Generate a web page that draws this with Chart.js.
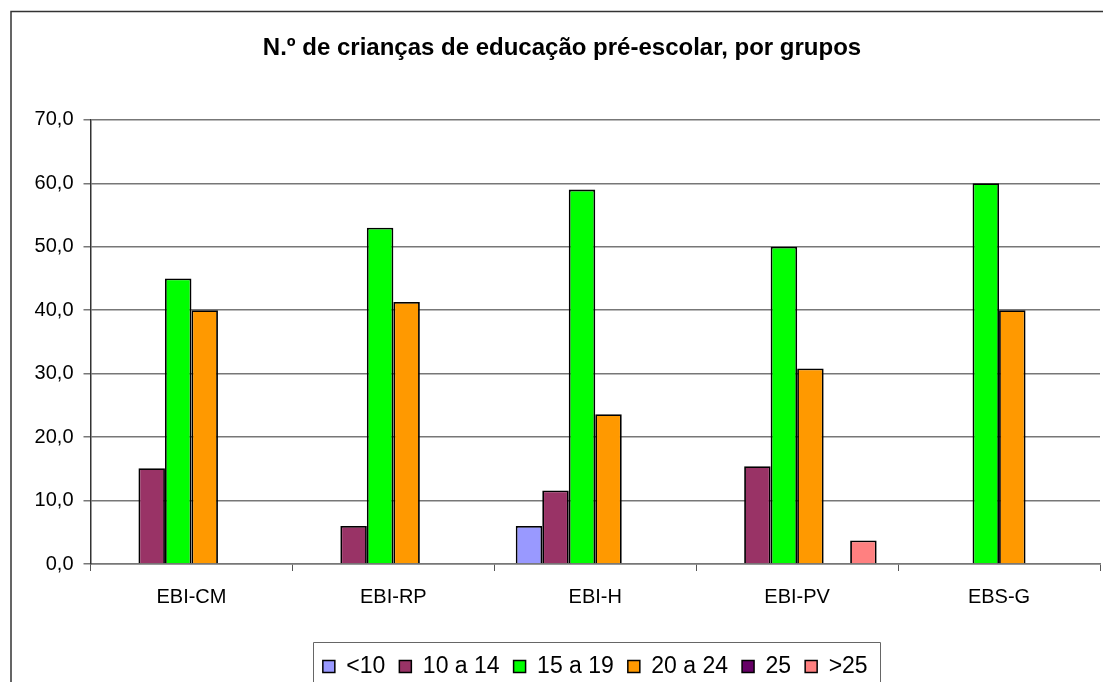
<!DOCTYPE html>
<html>
<head>
<meta charset="utf-8">
<script src="https://cdn.jsdelivr.net/npm/chart.js@4/dist/chart.umd.min.js"></script>
<style>
html,body{margin:0;padding:0;background:#fff;overflow:hidden;}
#wrap{position:relative;width:1103px;height:682px;overflow:hidden;}
</style>
</head>
<body>
<div id="wrap"><canvas id="c" width="1103" height="688"></canvas></div>
<script>
const categories = ["EBI-CM", "EBI-RP", "EBI-H", "EBI-PV", "EBS-G"];
const seriesNames = ["<10", "10 a 14", "15 a 19", "20 a 24", "25", ">25"];
const under10 = [null, null, 6, null, null];
const from10to14 = [15.1, 6, 11.6, 15.4, null];
const from15to19 = [45, 53, 59, 50, 60];
const from20to24 = [40, 41.3, 23.6, 30.8, 40];
const exactly25 = [null, null, null, null, null];
const over25 = [null, null, null, 3.7, null];
const seriesColors = ["#9999FF", "#993366", "#00FF00", "#FF9900", "#660066", "#FF8080"];
const yTicks = [0, 10, 20, 30, 40, 50, 60, 70];

const allSeries = [under10, from10to14, from15to19, from20to24, exactly25, over25];

const framePlugin = {
  id: 'frames',
  beforeDraw(chart) {
    const ctx = chart.ctx;
    if (!chart.$shifted) {
      chart.$shifted = true;
      const lg = chart.legend;
      if (lg) {
        const ca = chart.chartArea;
        const shift = (ca.left + ca.right) / 2 - (lg.left + lg.right) / 2;
        lg.left += shift;
        lg.right += shift;
        (lg.legendHitBoxes || []).forEach(h => { h.left += shift; });
      }
      const tb = chart.titleBlock;
      if (tb) { tb.left += 12; tb.right += 12; }
    }
    ctx.save();
    ctx.fillStyle = '#fff';
    ctx.fillRect(0, 0, chart.width, chart.height);
    ctx.strokeStyle = '#333';
    ctx.lineWidth = 1.5;
    ctx.beginPath();
    ctx.moveTo(11, chart.height + 5);
    ctx.lineTo(11, 11.5);
    ctx.lineTo(chart.width + 5, 11.5);
    ctx.stroke();
    ctx.restore();
  },
  afterDraw(chart) {
    const lg = chart.legend;
    if (!lg || !lg.legendHitBoxes || !lg.legendHitBoxes.length) return;
    const boxes = lg.legendHitBoxes;
    const first = boxes[0], last = boxes[boxes.length - 1];
    const left = first.left - 10;
    const right = last.left + last.width + 12;
    const top = first.top + first.height / 2 - 25;
    const ctx = chart.ctx;
    ctx.save();
    ctx.strokeStyle = '#666';
    ctx.lineWidth = 1;
    ctx.beginPath();
    ctx.moveTo(Math.round(left) + 0.5, chart.height + 5);
    ctx.lineTo(Math.round(left) + 0.5, Math.round(top) + 0.5);
    ctx.lineTo(Math.round(right) + 0.5, Math.round(top) + 0.5);
    ctx.lineTo(Math.round(right) + 0.5, chart.height + 5);
    ctx.stroke();
    ctx.restore();
  }
};

new Chart(document.getElementById('c'), {
  type: 'bar',
  data: {
    labels: categories,
    datasets: seriesNames.map((name, i) => ({
      label: name,
      data: allSeries[i],
      backgroundColor: seriesColors[i],
      borderColor: '#000',
      borderWidth: 1.8,
      categoryPercentage: 0.7875,
      barPercentage: 1.0
    }))
  },
  options: {
    responsive: false,
    animation: false,
    events: [],
    layout: { padding: { left: 0, right: 3, top: 0, bottom: 0 } },
    plugins: {
      title: {
        display: true,
        text: 'N.º de crianças de educação pré-escolar, por grupos',
        color: '#000',
        font: { family: 'Liberation Sans', size: 24, weight: 'bold' },
        padding: { top: 34, bottom: 57 }
      },
      legend: {
        display: true,
        position: 'bottom',
        labels: {
          color: '#000',
          font: { family: 'Liberation Sans', size: 23 },
          boxWidth: 12,
          boxHeight: 12,
          padding: 14,
          generateLabels(chart) {
            return chart.data.datasets.map((ds, i) => ({
              text: ds.label,
              fillStyle: ds.backgroundColor,
              strokeStyle: '#000',
              lineWidth: 1.5,
              hidden: false,
              datasetIndex: i,
              fontColor: '#000'
            }));
          }
        }
      },
      tooltip: { enabled: false }
    },
    scales: {
      x: {
        offset: true,
        afterFit(scale) { scale.height = 77; },
        grid: {
          offset: true,
          drawOnChartArea: false,
          drawTicks: true,
          tickLength: 7,
          tickColor: '#555',
          color: '#555'
        },
        border: { display: true, color: '#777', width: 1.5 },
        ticks: {
          color: '#000',
          font: { family: 'Liberation Sans', size: 20 },
          padding: 14,
          maxRotation: 0
        }
      },
      y: {
        min: 0,
        max: 70,
        afterBuildTicks(axis) { axis.ticks = yTicks.map(v => ({ value: v })); },
        afterFit(scale) { scale.width = 90.5; },
        grid: {
          color: '#777',
          lineWidth: 1.5,
          drawTicks: true,
          tickLength: 7,
          tickColor: '#777'
        },
        border: { display: true, color: '#333', width: 1.5 },
        ticks: {
          color: '#000',
          font: { family: 'Liberation Sans', size: 20 },
          padding: 10,
          callback: v => v.toFixed(1).replace('.', ',')
        }
      }
    }
  },
  plugins: [framePlugin]
});
</script>
</body>
</html>
